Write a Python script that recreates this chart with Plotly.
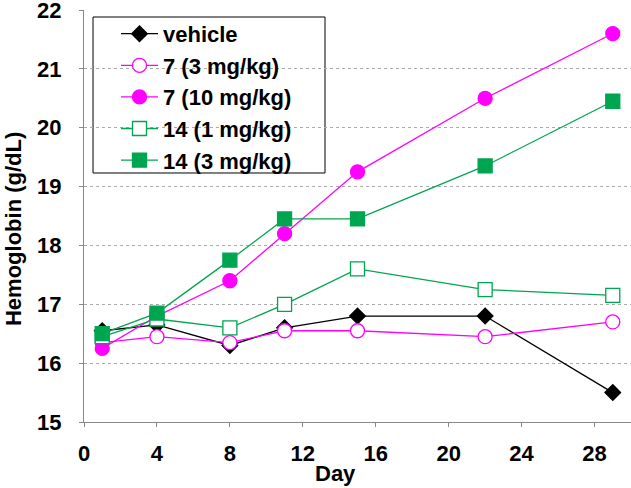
import plotly.graph_objects as go

days = [1, 4, 8, 11, 15, 22, 29]
vehicle = [16.55, 16.65, 16.3, 16.6, 16.8, 16.8, 15.5]
c7_3 = [16.35, 16.45, 16.35, 16.55, 16.55, 16.45, 16.7]
c7_10 = [16.25, 16.8, 17.4, 18.2, 19.25, 20.5, 21.6]
c14_1 = [16.45, 16.75, 16.6, 17.0, 17.6, 17.25, 17.15]
c14_3 = [16.5, 16.85, 17.75, 18.45, 18.45, 19.35, 20.45]

x_ticks = [0, 4, 8, 12, 16, 20, 24, 28]
y_ticks = [15, 16, 17, 18, 19, 20, 21, 22]

MAGENTA = "#ff00ff"
GREEN = "#00a550"
FONT = "Arial, Liberation Sans, sans-serif"

series = [
    ("vehicle", vehicle, "black", "diamond", "black"),
    ("7 (3 mg/kg)", c7_3, MAGENTA, "circle", "white"),
    ("7 (10 mg/kg)", c7_10, MAGENTA, "circle", MAGENTA),
    ("14 (1 mg/kg)", c14_1, GREEN, "square", "white"),
    ("14 (3 mg/kg)", c14_3, GREEN, "square", GREEN),
]

fig = go.Figure()
for name, vals, color, symbol, fill in series:
    fig.add_trace(
        go.Scatter(
            x=days,
            y=vals,
            name=name,
            mode="lines+markers",
            line=dict(color=color, width=1.3),
            marker=dict(
                symbol=symbol,
                size=14 if symbol != "diamond" else 12,
                color=fill,
                line=dict(color=color, width=1.3),
            ),
        )
    )

# legend frame (white box behind the traces, over the grid)
fig.add_shape(
    type="rect",
    xref="paper",
    yref="paper",
    x0=0.0165,
    x1=0.4406,
    y0=0.6044,
    y1=0.983,
    line=dict(color="black", width=1),
    fillcolor="white",
    layer="between",
)

# axis titles, placed as in the original (slightly off-centre)
fig.add_annotation(
    text="Hemoglobin (g/dL)",
    xref="paper",
    yref="paper",
    x=-0.1298,
    y=0.4684,
    textangle=-90,
    showarrow=False,
    xanchor="center",
    yanchor="middle",
    font=dict(family=FONT, size=22, weight="bold", color="black"),
)
fig.add_annotation(
    text="Day",
    xref="paper",
    yref="paper",
    x=0.459,
    y=-0.126,
    showarrow=False,
    xanchor="center",
    yanchor="middle",
    font=dict(family=FONT, size=22, weight="bold", color="black"),
)

fig.update_layout(
    width=631,
    height=488,
    margin=dict(l=84, r=0, t=10, b=66),
    paper_bgcolor="white",
    plot_bgcolor="white",
    font=dict(family=FONT, size=20, color="black", weight="bold"),
    showlegend=True,
    legend=dict(
        x=0.0585,
        y=0.993,
        xanchor="left",
        yanchor="top",
        bgcolor="rgba(0,0,0,0)",
        borderwidth=0,
        font=dict(family=FONT, size=22, color="black", weight="bold"),
        tracegroupgap=0,
        itemwidth=37,
    ),
)
fig.update_xaxes(
    range=[0, 30],
    tickvals=x_ticks,
    showgrid=False,
    showline=True,
    linecolor="#888888",
    linewidth=1,
    ticks="outside",
    ticklen=4,
    tickcolor="#888888",
    ticklabelstandoff=8,
    tickfont=dict(family=FONT, size=22, weight="bold"),
    zeroline=False,
    automargin=False,
)
fig.update_yaxes(
    range=[15, 22],
    tickvals=y_ticks,
    showgrid=True,
    gridcolor="#aaaaaa",
    griddash="dot",
    gridwidth=1,
    showline=True,
    linecolor="#888888",
    linewidth=1,
    ticks="outside",
    ticklen=4,
    tickcolor="#888888",
    ticklabelstandoff=13,
    ticklabeloverflow="allow",
    tickfont=dict(family=FONT, size=22, weight="bold"),
    zeroline=False,
    automargin=False,
)

fig.write_html(
    "out.html",
    config={"displayModeBar": False},
    post_script="document.body.style.margin='0px';",
)
